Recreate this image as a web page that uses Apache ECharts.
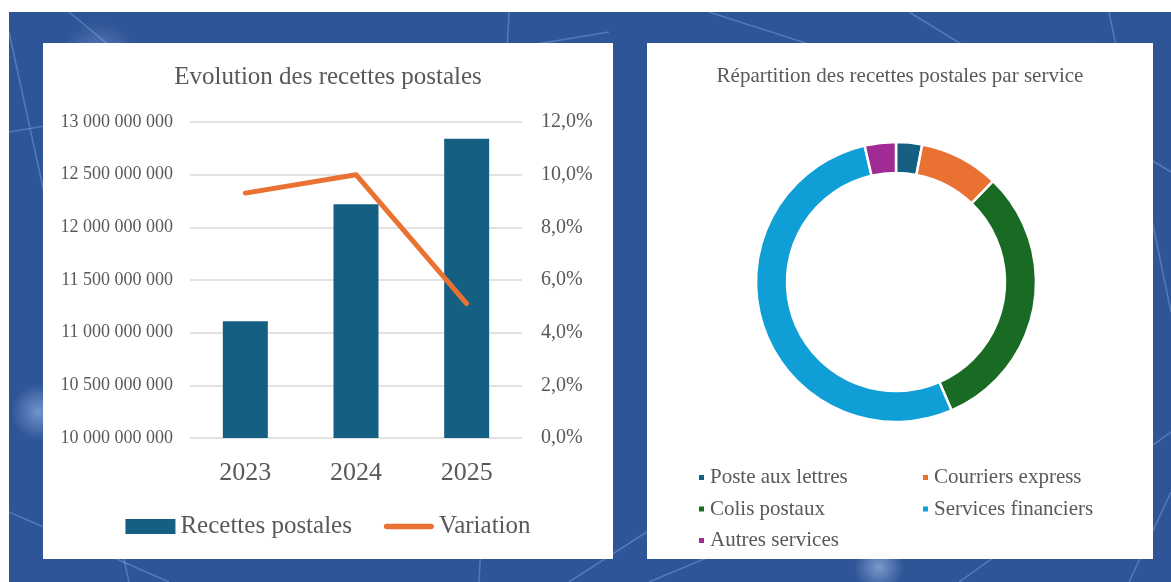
<!DOCTYPE html>
<html>
<head>
<meta charset="utf-8">
<script src="https://cdn.jsdelivr.net/npm/echarts@6/dist/echarts.min.js"></script>
<style>
    html, body { margin: 0; padding: 0; background: #ffffff; }
    #bg {
        position: absolute; left: 9px; top: 12px; width: 1162px; height: 570px;
        background:
            radial-gradient(circle at 90px 50px, rgba(160,190,240,0.45) 0, rgba(160,190,240,0) 40px),
            radial-gradient(circle at 30px 400px, rgba(170,200,250,0.55) 0, rgba(170,200,250,0) 28px),
            radial-gradient(circle at 1080px 50px, rgba(200,220,255,0.6) 0, rgba(200,220,255,0) 20px),
            radial-gradient(circle at 870px 555px, rgba(200,220,255,0.5) 0, rgba(200,220,255,0) 25px),
            #2e5597;
        overflow: hidden;
    }
    #bg svg { position: absolute; left: 0; top: 0; }
    .panel { position: absolute; top: 43px; height: 516px; background: #ffffff; }
    #left { left: 43px; width: 570px; }
    #right { left: 647px; width: 506px; }
</style>
</head>
<body>
<div id="bg">
    <svg width="1162" height="570" stroke="#9cc0ff" stroke-opacity="0.35" stroke-width="1.5" fill="none">
        <line x1="0" y1="20" x2="120" y2="570"/>
        <line x1="0" y1="120" x2="600" y2="20"/>
        <line x1="60" y1="0" x2="180" y2="100"/>
        <line x1="500" y1="0" x2="470" y2="570"/>
        <line x1="560" y1="570" x2="700" y2="480"/>
        <line x1="700" y1="0" x2="980" y2="90"/>
        <line x1="900" y1="0" x2="1162" y2="160"/>
        <line x1="1100" y1="0" x2="1162" y2="300"/>
        <line x1="640" y1="570" x2="760" y2="520"/>
        <line x1="950" y1="570" x2="1162" y2="420"/>
        <line x1="0" y1="500" x2="160" y2="570"/>
        <line x1="1120" y1="570" x2="1162" y2="480"/>
    </svg>
</div>
<div id="left" class="panel"></div>
<div id="right" class="panel"></div>
<script>
/*données*/
var years = ['2023', '2024', '2025'];
var recettes = [11108000000, 12219000000, 12840000000];
var variation = [0.093, 0.100, 0.051];

var services = ['Poste aux lettres', 'Courriers express', 'Colis postaux', 'Services financiers', 'Autres services'];
var parts = [3.0, 9.2, 31.3, 52.9, 3.6];
var serviceColors = ['#156082', '#e97132', '#196b24', '#0f9ed5', '#a02b93'];

(function () {
    'use strict';
    var FONT = '"Liberation Serif", "DejaVu Serif", serif';
    var GREY = '#595959';
    /*trait arrondi pour la légende de la courbe*/
    var LINE_ICON = 'path://M3,0 L52,0 A3,3 0 0 1 52,6 L3,6 A3,3 0 0 1 3,0 Z';

    /*espaces des milliers*/
    function spaced(v) {
        return String(Math.round(v)).replace(/\B(?=(\d{3})+(?!\d))/g, ' ');
    }
    function pct(v) {
        return (v * 100).toFixed(1).replace('.', ',') + '%';
    }

    /*graphique de gauche*/
    var left = echarts.init(document.getElementById('left'));
    left.setOption({
        animation: false,
        title: {
            text: 'Evolution des recettes postales',
            left: 'center', top: 17,
            textStyle: { fontFamily: FONT, fontSize: 25, fontWeight: 'normal', color: GREY }
        },
        legend: {
            bottom: 15, left: 'center',
            itemWidth: 50, itemHeight: 15, itemGap: 32,
            textStyle: { fontFamily: FONT, fontSize: 25, color: GREY },
            data: [{ name: 'Recettes postales', icon: 'rect' }, { name: 'Variation', icon: LINE_ICON }]
        },
        grid: { left: 147, right: 91, top: 79, bottom: 121 },
        xAxis: {
            type: 'category',
            data: years,
            axisLine: { show: false },
            axisTick: { show: false },
            axisLabel: { fontFamily: FONT, fontSize: 26, color: GREY, margin: 22 }
        },
        yAxis: [
            {
                type: 'value', min: 10000000000, max: 13000000000, interval: 500000000,
                axisLabel: { fontFamily: FONT, fontSize: 18, color: GREY, margin: 17, formatter: spaced },
                splitLine: { lineStyle: { color: '#d9d9d9', width: 1.5 } }
            },
            {
                type: 'value', min: 0, max: 0.12, interval: 0.02,
                axisLabel: { fontFamily: FONT, fontSize: 20, color: GREY, margin: 19, formatter: pct },
                splitLine: { show: false }
            }
        ],
        series: [
            {
                name: 'Recettes postales', type: 'bar', data: recettes,
                barWidth: 45, itemStyle: { color: '#156082' }
            },
            {
                name: 'Variation', type: 'line', yAxisIndex: 1, data: variation,
                showSymbol: false, symbol: 'none', z: 5,
                itemStyle: { color: '#e97132' },
                lineStyle: { color: '#e97132', width: 5, cap: 'round', join: 'round' }
            }
        ]
    });

    /*graphique de droite*/
    var right = echarts.init(document.getElementById('right'));
    var legendText = { fontFamily: FONT, fontSize: 21, color: GREY, lineHeight: 20 };
    right.setOption({
        animation: false,
        color: serviceColors,
        title: {
            text: 'Répartition des recettes postales par service',
            left: 'center', top: 18,
            textStyle: { fontFamily: FONT, fontSize: 21, fontWeight: 'normal', color: GREY }
        },
        legend: [
            {
                orient: 'vertical', left: 45, top: 419,
                icon: 'rect', itemWidth: 7, itemHeight: 7, itemGap: 10.5,
                textStyle: legendText,
                data: [services[0], services[2], services[4]]
            },
            {
                orient: 'vertical', left: 269, top: 419,
                icon: 'rect', itemWidth: 7, itemHeight: 7, itemGap: 10.5,
                textStyle: legendText,
                data: [services[1], services[3]]
            }
        ],
        series: [{
            type: 'pie',
            center: [249, 239],
            radius: [109, 140],
            startAngle: 90,
            label: { show: false },
            labelLine: { show: false },
            itemStyle: { borderColor: '#ffffff', borderWidth: 2.5 },
            data: services.map(function (s, i) { return { name: s, value: parts[i] }; })
        }]
    });
})();
</script>
</body>
</html>
